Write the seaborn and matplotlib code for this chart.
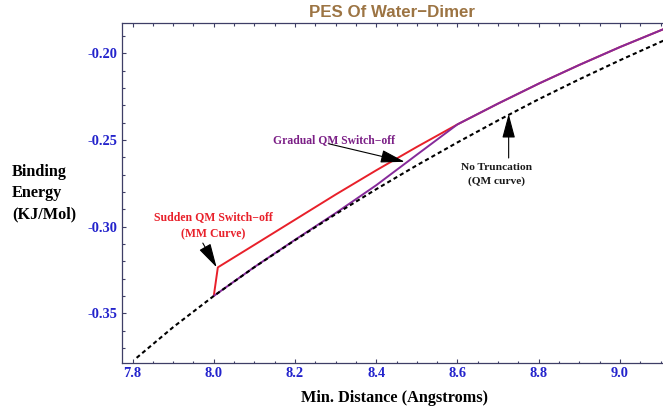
import matplotlib
matplotlib.use("Agg")
import matplotlib.pyplot as plt
from matplotlib.ticker import MultipleLocator, FormatStrFormatter
import seaborn as sns
import pandas as pd

# Potential energy surface of the water dimer near the QM cut-off
qm_x = [7.81, 7.90, 8.00, 8.10, 8.20, 8.30, 8.40, 8.50, 8.60, 8.70, 8.80, 8.90, 9.00, 9.11]
qm_y = [-0.3757, -0.3580, -0.3400, -0.3234, -0.3078, -0.2928, -0.2784, -0.2646,
        -0.2514, -0.2387, -0.2265, -0.2150, -0.2040, -0.1924]

mm_x = [8.00, 8.01, 8.10, 8.20, 8.30, 8.40, 8.50, 8.60, 8.70, 8.80, 8.90, 9.00, 9.11]
mm_y = [-0.3400, -0.3235, -0.3105, -0.2960, -0.2815, -0.2675, -0.2540, -0.2410,
        -0.2290, -0.2175, -0.2067, -0.1964, -0.1858]

gradual_x = [8.00, 8.10, 8.20, 8.30, 8.40, 8.50, 8.60, 8.70, 8.80, 8.90, 9.00, 9.11]
gradual_y = [-0.3400, -0.3233, -0.3076, -0.2922, -0.2761, -0.2585, -0.2410,
             -0.2290, -0.2175, -0.2067, -0.1964, -0.1858]

x_ticks = [7.8, 8.0, 8.2, 8.4, 8.6, 8.8, 9.0]
y_ticks = [-0.35, -0.30, -0.25, -0.20]

qm = pd.DataFrame({"r": qm_x, "E": qm_y})
mm = pd.DataFrame({"r": mm_x, "E": mm_y})
gradual = pd.DataFrame({"r": gradual_x, "E": gradual_y})

sns.set_theme(style="white")
plt.rcParams["font.family"] = ["Liberation Serif", "DejaVu Serif"]

RED = "#E8202A"
PURPLE = "#862A9A"
FRAME = "#3E3E66"
TICKBLUE = "#2323CC"

fig = plt.figure(figsize=(6.63, 4.12), dpi=100)
ax = fig.add_axes([0.1840, 0.1201, 0.8160, 0.8233])

sns.lineplot(data=mm, x="r", y="E", ax=ax, color=RED, lw=1.4,
             estimator=None, sort=False, zorder=2)
sns.lineplot(data=gradual, x="r", y="E", ax=ax, color=PURPLE, lw=1.4,
             estimator=None, sort=False, zorder=3)
sns.lineplot(data=qm, x="r", y="E", ax=ax, color="black", lw=1.5,
             linestyle=(0, (2.0, 1.5)), estimator=None, sort=False, zorder=4)

ax.set_xlim(7.774, 9.106)
ax.set_ylim(-0.3784, -0.1827)

ax.set_xticks(x_ticks)
ax.set_yticks(y_ticks)
ax.xaxis.set_minor_locator(MultipleLocator(0.05))
ax.yaxis.set_minor_locator(MultipleLocator(0.01))
ax.xaxis.set_major_formatter(FormatStrFormatter("%.1f"))
ax.yaxis.set_major_formatter(FormatStrFormatter("%.2f"))

ax.tick_params(which="both", direction="in", top=True, right=False,
               bottom=True, left=True, color=FRAME, width=0.8)
ax.tick_params(which="major", length=3.0, pad=3.4)
ax.tick_params(which="minor", length=1.8)
for lab in ax.get_xticklabels() + ax.get_yticklabels():
    lab.set_fontfamily("Liberation Serif")
    lab.set_fontweight("bold")
    lab.set_fontsize(10.4)
    lab.set_color(TICKBLUE)

for side in ("left", "bottom", "top"):
    ax.spines[side].set_color(FRAME)
    ax.spines[side].set_linewidth(0.9)
ax.spines["right"].set_visible(False)

ax.set_xlabel("")
ax.set_ylabel("")

fig.text(0.5920, 0.9700, "PES Of Water\u2212Dimer", ha="center", va="center",
         family=["Liberation Sans", "DejaVu Sans"], fontweight="bold",
         fontsize=12.2, color="#9C7443")

fig.text(0.5950, 0.0340, "Min. Distance (Angstroms)", ha="center", va="center",
         fontweight="bold", fontsize=11.7, color="black")

fig.text(0.0180, 0.5316, "Binding\nEnergy\n(KJ/Mol)", ha="left", va="center",
         fontweight="bold", fontsize=11.7, color="black", linespacing=1.45)

arrow_kw = dict(arrowstyle="-|>,head_length=1.5,head_width=0.4",
                color="black", lw=0.8, shrinkA=0, shrinkB=0,
                mutation_scale=10)

# Gradual switch-off label and arrow
ax.text(8.295, -0.2500, "Gradual QM Switch\u2212off", ha="center", va="center",
        fontweight="bold", fontsize=8.4, color="#7B1F86")
ax.annotate("", xy=(8.470, -0.2626), xytext=(8.283, -0.2522),
            arrowprops=arrow_kw, zorder=6)

# Sudden switch-off label and arrow
ax.text(7.998, -0.2996, "Sudden QM Switch\u2212off\n(MM Curve)", ha="center",
        va="center", fontweight="bold", fontsize=8.5, color=RED,
        linespacing=1.55)
ax.annotate("", xy=(8.007, -0.3235), xytext=(7.973, -0.3095),
            arrowprops=arrow_kw, zorder=6)

# No-truncation label and arrow
ax.text(8.697, -0.2702, "No Truncation\n(QM curve)", ha="center", va="center",
        fontweight="bold", fontsize=8.2, color="#1A1A1A", linespacing=1.6)
ax.annotate("", xy=(8.726, -0.2350), xytext=(8.726, -0.2604),
            arrowprops=arrow_kw, zorder=6)

fig.savefig("out.png", dpi=100)
